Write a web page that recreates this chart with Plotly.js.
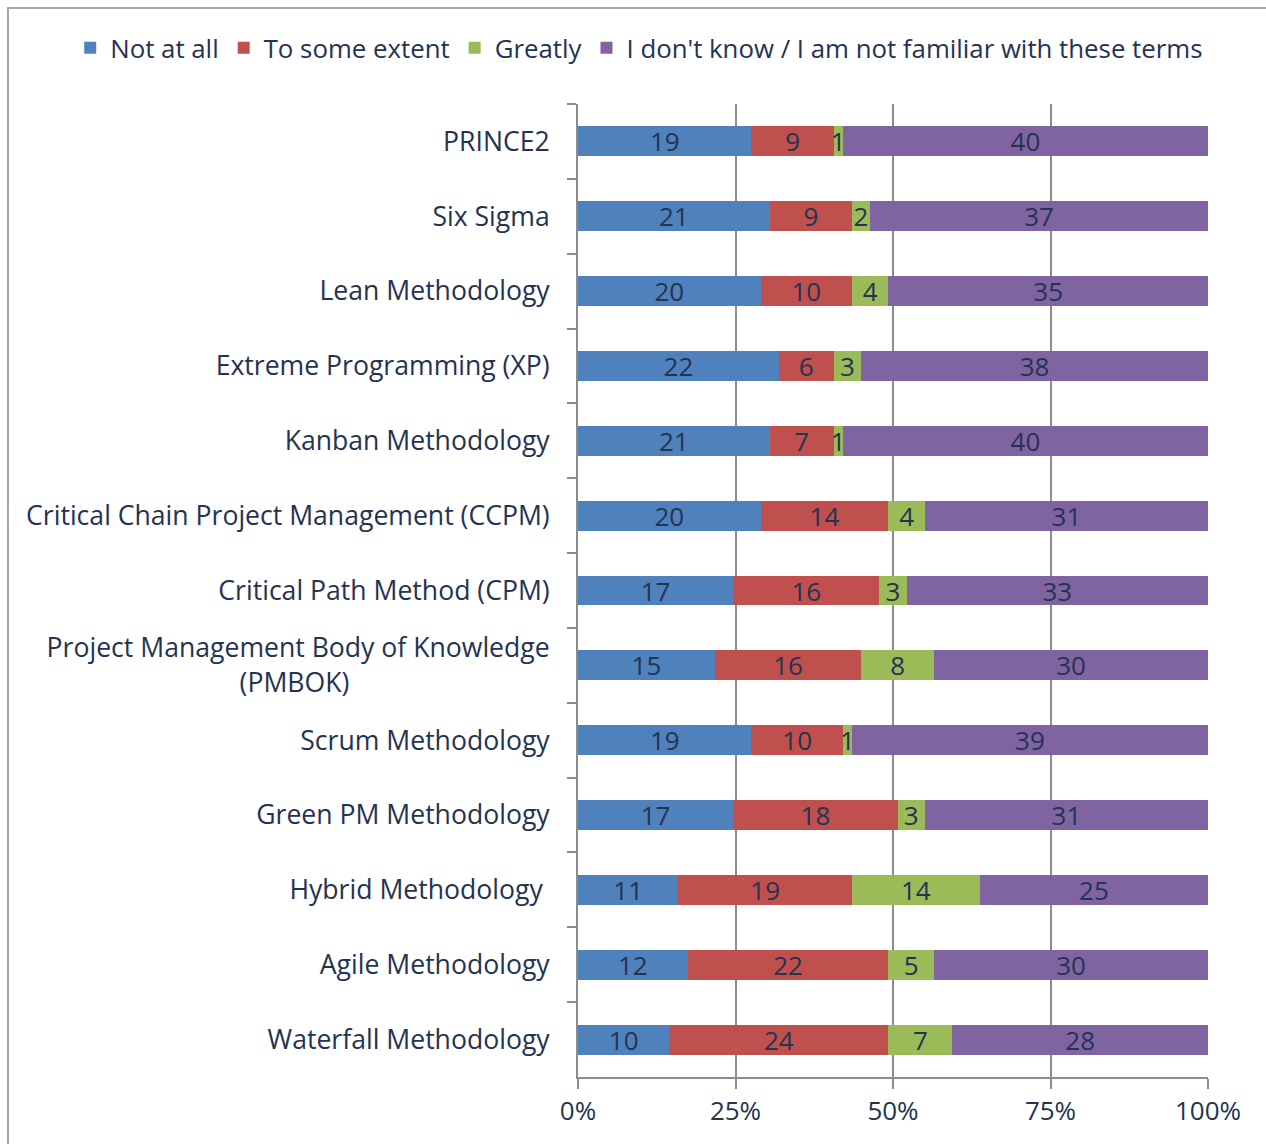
<!DOCTYPE html>
<html>
<head>
<meta charset="utf-8">
<script src="https://cdn.plot.ly/plotly-3.0.1.min.js"></script>
<style>
  body { margin: 0; overflow: hidden; background: #fff; }
  #chart { position: absolute; left: 0; top: 0; width: 1266px; height: 1144px; }
  #frame { position: absolute; left: 7px; top: 7px; width: 1300px; height: 1200px;
           border-left: 2px solid #a6a6a6; border-top: 2px solid #a6a6a6; pointer-events: none; }
</style>
</head>
<body>
<div id="chart"></div>
<div id="frame"></div>
<script>
var nb = "\u00A0";
var categories = [
    "PRINCE2",
    "Six Sigma",
    "Lean Methodology",
    "Extreme Programming (XP)",
    "Kanban Methodology",
    "Critical Chain Project Management (CCPM)",
    "Critical Path Method (CPM)",
    "Project Management Body of Knowledge<br>(PMBOK)" + nb.repeat(29),
    "Scrum Methodology",
    "Green PM Methodology",
    "Hybrid Methodology" + nb,
    "Agile Methodology",
    "Waterfall Methodology"
];

var notAtAll     = [19, 21, 20, 22, 21, 20, 17, 15, 19, 17, 11, 12, 10];
var toSomeExtent = [9, 9, 10, 6, 7, 14, 16, 16, 10, 18, 19, 22, 24];
var greatly      = [1, 2, 4, 3, 1, 4, 3, 8, 1, 3, 14, 5, 7];
var dontKnow     = [40, 37, 35, 38, 40, 31, 33, 30, 39, 31, 25, 30, 28];

var seriesNames = ["Not at all", "To some extent", "Greatly", "I don't know / I am not familiar with these terms"];
var seriesColors = ["#4f81bd", "#c0504d", "#9bbb59", "#8064a2"];
var seriesValues = [notAtAll, toSomeExtent, greatly, dontKnow];

var xTickVals = [0, 25, 50, 75, 100];
var xTickText = ["0%", "25%", "50%", "75%", "100%"];

var textColor = "#243352";
var fontSize = 26;

var data = seriesValues.map(function (vals, i) {
    return {
        type: "bar",
        orientation: "h",
        name: seriesNames[i],
        y: categories,
        x: vals,
        text: vals.map(String),
        textposition: "inside",
        insidetextanchor: "middle",
        textangle: 0,
        constraintext: "none",
        textfont: {family: "Open Sans", size: fontSize, color: textColor},
        marker: {color: seriesColors[i]},
        width: 0.4,
        hoverinfo: "skip"
    };
});

var layout = {
    width: 1266,
    height: 1144,
    barmode: "stack",
    barnorm: "percent",
    paper_bgcolor: "rgba(0,0,0,0)",
    plot_bgcolor: "rgba(0,0,0,0)",
    font: {family: "Open Sans", size: fontSize, color: textColor},
    margin: {l: 578, r: 58, t: 104, b: 67, autoexpand: false},
    uniformtext: {mode: "show", minsize: fontSize},
    showlegend: true,
    legend: {
        orientation: "h",
        x: -0.806, y: 1.0576,
        xanchor: "left", yanchor: "middle",
        font: {family: "Open Sans", size: 25.8, color: textColor},
        itemwidth: 30,
        traceorder: "normal"
    },
    xaxis: {
        range: [0, 100],
        tickmode: "array",
        tickvals: xTickVals,
        ticktext: xTickText,
        showgrid: true,
        gridcolor: "#8c8c8c",
        gridwidth: 2,
        zeroline: false,
        showline: true,
        linecolor: "#8c8c8c",
        linewidth: 2,
        ticks: "outside",
        ticklen: 10,
        tickwidth: 2,
        tickcolor: "#8c8c8c",
        tickfont: {family: "Open Sans", size: fontSize, color: textColor},
        fixedrange: true
    },
    yaxis: {
        autorange: "reversed",
        showline: true,
        linecolor: "#8c8c8c",
        linewidth: 2,
        ticks: "outside",
        tickson: "boundaries",
        ticklen: 9,
        tickwidth: 2,
        tickcolor: "#8c8c8c",
        ticklabelstandoff: 21,
        tickfont: {family: "Open Sans", size: 26.6, color: textColor},
        fixedrange: true
    }
};

Plotly.newPlot("chart", data, layout, {displayModeBar: false, staticPlot: true});
</script>
</body>
</html>
